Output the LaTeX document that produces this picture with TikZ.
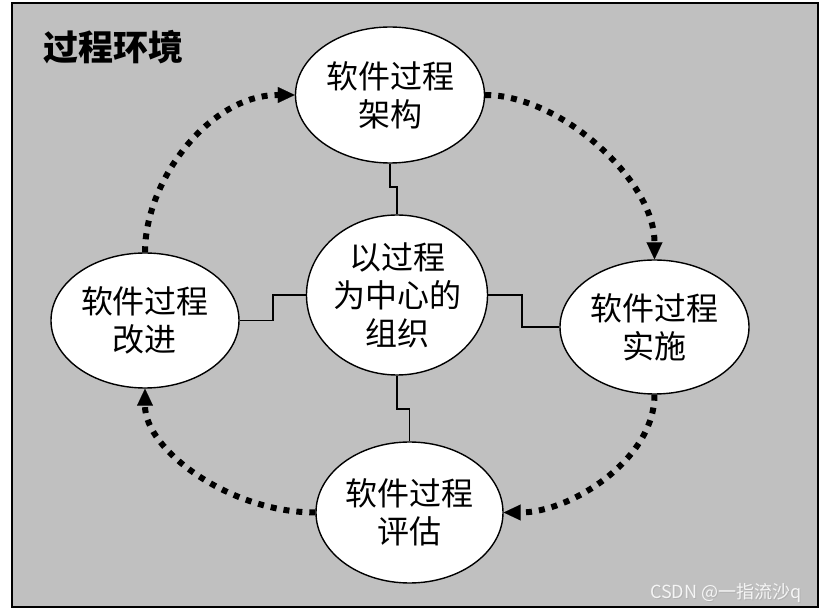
\documentclass[tikz,border=0pt]{standalone}
\usepackage{fontspec}
\setmainfont{Noto Sans CJK SC}
\usetikzlibrary{shapes.geometric,arrows.meta}
\definecolor{bggray}{RGB}{192,192,192}
\tikzset{
  proc/.style={ellipse, draw=black, line width=1.4pt, fill=white, inner sep=0pt,
    align=center, font=\fontsize{32}{38}\selectfont},
  elbow/.style={draw=black, line width=1.6pt},
  cycle/.style={draw=black, line width=6pt, dash pattern=on 6pt off 7pt,
    -{Triangle[length=17pt,width=16pt,line width=0.1pt]}},
}
\begin{document}
\begin{tikzpicture}[x=1pt,y=-1pt]
\useasboundingbox (0,0) rectangle (823,612);
\fill[white] (0,0) rectangle (823,612);
\draw[fill=bggray, line width=2pt] (12,3) rectangle (818,607);
\node[anchor=west, font=\fontsize{35}{40}\selectfont\bfseries] (title) at (40,47) {过程环境};

\node[proc, minimum width=189pt, minimum height=136pt] (T) at (390,95) {软件过程\\架构};
\node[proc, minimum width=174pt, minimum height=160pt] (C) at (397,295) {以过程\\为中心的\\组织};
\node[proc, minimum width=188pt, minimum height=135pt] (L) at (145,320.5) {软件过程\\改进};
\node[proc, minimum width=189pt, minimum height=134pt] (R) at (654.5,327) {软件过程\\实施};
\node[proc, minimum width=187pt, minimum height=141pt] (B) at (409.5,512.5) {软件过程\\评估};

% elbow connectors
\draw[elbow] (T.south) -- (390,187) -| (C.north);
\draw[elbow] (C.west) -- (273,295) |- (L.east);
\draw[elbow] (C.east) -- (522,295) |- (R.west);
\draw[elbow] (C.south) -- (397,409) -| (B.north);

% dotted cycle
\draw[cycle] (L.north) .. controls (145,180) and (210,95) .. (T.west);
\draw[cycle] (T.east) .. controls (560,95) and (654.5,180) .. (R.north);
\draw[cycle] (R.south) .. controls (654.5,460) and (570,512.5) .. (B.east);
\draw[cycle] (B.west) .. controls (230,512.5) and (145,450) .. (L.south);

% watermark
\node[anchor=east, font=\fontsize{18}{20}\selectfont, text=gray!60] (wms) at (806,594) {CSDN @一指流沙q};
\node[anchor=east, font=\fontsize{18}{20}\selectfont, text=gray!8] (wm) at (805,593) {CSDN @一指流沙q};
\end{tikzpicture}
\end{document}
